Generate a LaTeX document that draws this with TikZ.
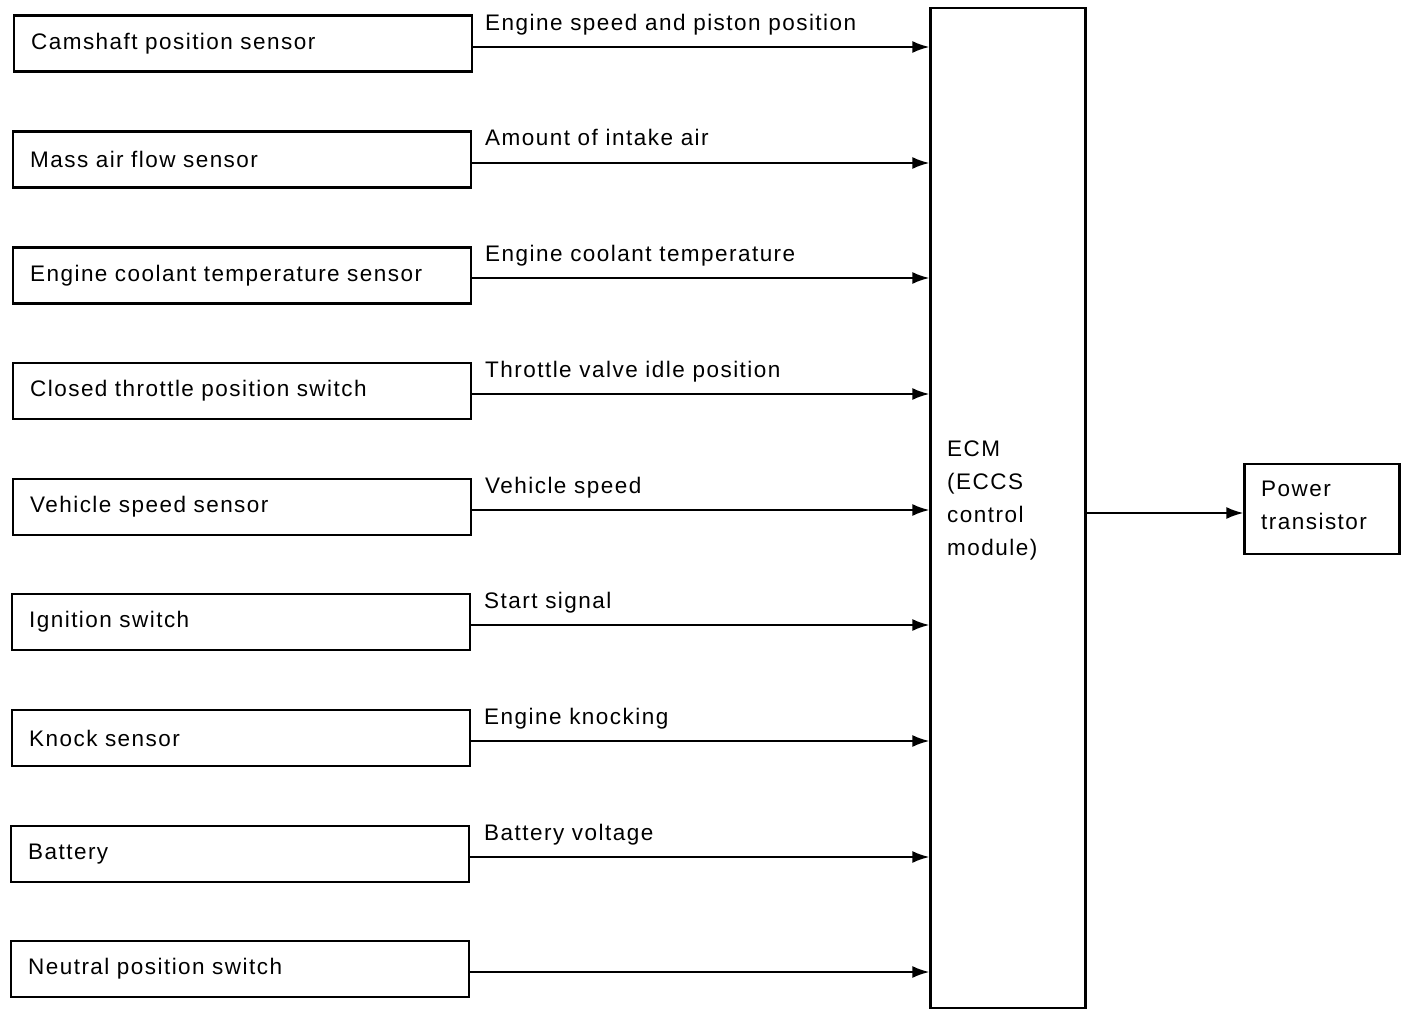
\documentclass[tikz,border=0pt]{standalone}
\usepackage{fontspec}
\setmainfont{Liberation Sans}[LetterSpace=6.5]
\usetikzlibrary{arrows.meta}
\begin{document}
\begin{tikzpicture}[x=1pt,y=-1pt,
  every node/.style={font=\fontsize{22.5}{33}\selectfont},
  sensor/.style={draw, line width=2.3pt, rectangle, minimum width=458pt, minimum height=56pt,
     anchor=west, inner xsep=17pt, text width=424pt, align=left},
  box/.style={draw, line width=2.3pt, rectangle, inner sep=0pt},
  sig/.style={line width=2pt, -{Latex[length=17pt,width=12pt]}},
  siglabel/.style={anchor=base west, inner sep=0pt}]
\useasboundingbox (0,0) rectangle (1408,1016);
% ECM
\node[box, minimum width=155pt, minimum height=1000pt] (ecm) at (1008,508) {};
\node[anchor=west, align=left, inner sep=0pt] (ecmtext) at (947,500) {ECM\\(ECCS\\control\\module)};
% Power transistor
\node[box, minimum width=155pt, minimum height=90pt] (pt) at (1322,509) {};
\node[anchor=west, align=left, inner sep=0pt] (pttext) at (1261,505.5) {Power\\transistor};
\draw[sig] (ecm.east |- 0,513) coordinate (ecmout) -- (ecmout -| pt.west);
% sensors
\node[sensor] (s1) at (13,43.5) {Camshaft position sensor};
\node[sensor] (s2) at (12,159.5) {Mass air flow sensor};
\node[sensor] (s3) at (12,275.5) {Engine coolant temperature sensor};
\node[sensor] (s4) at (12,391) {Closed throttle position switch};
\node[sensor] (s5) at (12,507) {Vehicle speed sensor};
\node[sensor] (s6) at (11,622) {Ignition switch};
\node[sensor] (s7) at (11,738) {Knock sensor};
\node[sensor] (s8) at (10,854) {Battery};
\node[sensor] (s9) at (10,969) {Neutral position switch};
% signals
\draw[sig] (s1.east |- 0,47) coordinate (a1) -- (a1 -| ecm.west);
\draw[sig] (s2.east |- 0,163) coordinate (a2) -- (a2 -| ecm.west);
\draw[sig] (s3.east |- 0,278) coordinate (a3) -- (a3 -| ecm.west);
\draw[sig] (s4.east |- 0,394) coordinate (a4) -- (a4 -| ecm.west);
\draw[sig] (s5.east |- 0,510) coordinate (a5) -- (a5 -| ecm.west);
\draw[sig] (s6.east |- 0,625) coordinate (a6) -- (a6 -| ecm.west);
\draw[sig] (s7.east |- 0,741) coordinate (a7) -- (a7 -| ecm.west);
\draw[sig] (s8.east |- 0,857) coordinate (a8) -- (a8 -| ecm.west);
\draw[sig] (s9.east |- 0,972) coordinate (a9) -- (a9 -| ecm.west);
% labels
\node[siglabel] (l1) at (485,30.5) {Engine speed and piston position};
\node[siglabel] (l2) at (485,146) {Amount of intake air};
\node[siglabel] (l3) at (485,261.5) {Engine coolant temperature};
\node[siglabel] (l4) at (485,377) {Throttle valve idle position};
\node[siglabel] (l5) at (485,493) {Vehicle speed};
\node[siglabel] (l6) at (484,608.5) {Start signal};
\node[siglabel] (l7) at (484,724) {Engine knocking};
\node[siglabel] (l8) at (484,840) {Battery voltage};
\end{tikzpicture}
\end{document}
